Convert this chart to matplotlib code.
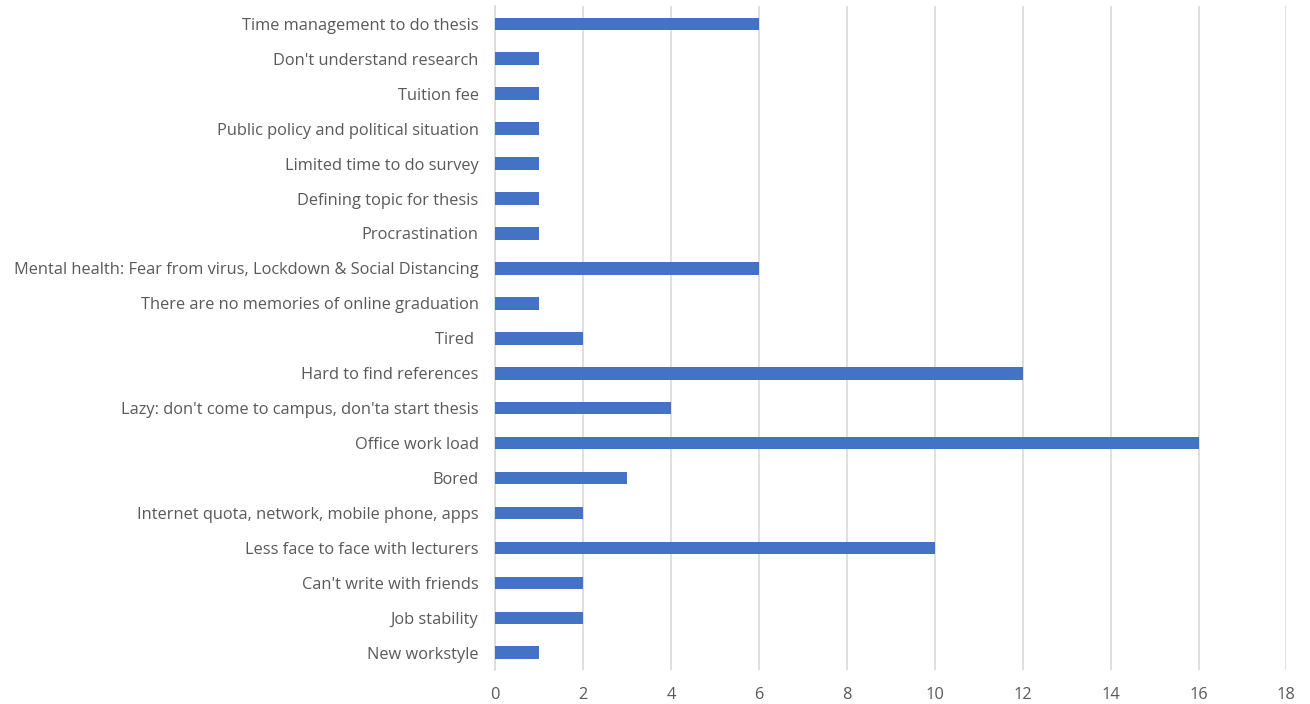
import matplotlib
matplotlib.use("Agg")
import matplotlib.pyplot as plt

# Reasons listed top to bottom, with the number of responses for each
reasons = [
    "Time management to do thesis",
    "Don't understand research",
    "Tuition fee",
    "Public policy and political situation",
    "Limited time to do survey",
    "Defining topic for thesis",
    "Procrastination",
    "Mental health: Fear from virus, Lockdown & Social Distancing",
    "There are no memories of online graduation",
    "Tired ",
    "Hard to find references",
    "Lazy: don't come to campus, don'ta start thesis",
    "Office work load",
    "Bored",
    "Internet quota, network, mobile phone, apps",
    "Less face to face with lecturers",
    "Can't write with friends",
    "Job stability",
    "New workstyle",
]
counts = [6, 1, 1, 1, 1, 1, 1, 6, 1, 2, 12, 4, 16, 3, 2, 10, 2, 2, 1]
x_ticks = list(range(0, 19, 2))

plt.rcParams['font.family'] = ['Open Sans', 'DejaVu Sans']
text_color = '#595959'

fig = plt.figure(figsize=(13.1, 7.04), dpi=100)
ax = fig.add_axes([0.378, 0.048, 0.604, 0.943])

pos = list(range(len(reasons)))
ax.barh(pos, counts, height=0.36, color='#4472C4', zorder=3)

ax.set_ylim(len(reasons) - 0.5, -0.5)
ax.set_xlim(0, 18)
ax.set_xticks(x_ticks)
ax.set_yticks(pos)
ax.set_yticklabels(reasons)

ax.grid(axis='x', color='#D9D9D9', linewidth=1.2, zorder=0)
for side in ['top', 'right', 'bottom']:
    ax.spines[side].set_visible(False)
ax.spines['left'].set_color('#D9D9D9')
ax.spines['left'].set_linewidth(1.2)

ax.tick_params(axis='both', length=0, labelsize=11.8, labelcolor=text_color)
ax.tick_params(axis='x', pad=12)
ax.tick_params(axis='y', pad=12)

fig.savefig('out.png', dpi=100)
